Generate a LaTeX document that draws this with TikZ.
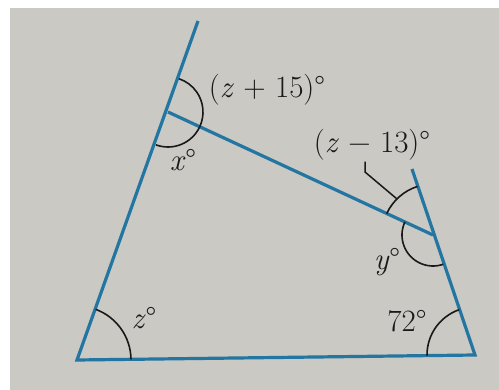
\documentclass[tikz,border=0pt]{standalone}
\usepackage{fontspec}
\usetikzlibrary{angles}
\definecolor{lineblue}{RGB}{36,118,162}
\definecolor{paper}{RGB}{202,201,196}
\def\side{\draw[lineblue,line width=3.2pt]}
\def\angmark{\pic[draw=black!90,line width=1.6pt]}

\begin{document}
\begin{tikzpicture}[x=1pt,y=-1pt,font=\fontsize{31}{33}\selectfont,
    lbl/.style={inner sep=1pt,text=black!90}]
    \useasboundingbox (0,0) rectangle (499,390);
    \fill[white] (0,0) rectangle (499,390);
    \fill[paper] (10,8) rectangle (499,390);
    % corners and ends
    \coordinate (A)  at (77,360);
    \coordinate (B)  at (475,355);
    \coordinate (C)  at (168,112);
    \coordinate (D)  at (433,235);
    \coordinate (Tl) at (198,21);
    \coordinate (Tr) at (412,169);
    % sides
    \side (Tl) -- (A) -- (B) -- (Tr);
    \side (C) -- (D);
    % angle arcs
    \angmark[angle radius=54pt] {angle=B--A--C};
    \angmark[angle radius=35pt] {angle=D--C--Tl};
    \angmark[angle radius=35pt] {angle=A--C--D};
    \angmark[angle radius=51pt] {angle=Tr--D--C};
    \angmark[angle radius=31pt] {angle=C--D--B};
    \angmark[angle radius=48pt] {angle=D--B--A};
    % labels
    \node[lbl] (l15) at (267,90)  {(\textit{z} + 15)°};
    \node[lbl] (l13) at (372,145) {(\textit{z} − 13)°};
    \node[lbl] (lx)  at (183,160) {\textit{x}°};
    \node[lbl] (ly)  at (387,262) {\textit{y}°};
    \node[lbl] (l72) at (407,321) {72°};
    \node[lbl] (lz)  at (144,318) {\textit{z}°};
    % leader for (z - 13)
    \coordinate (lt)   at ([shift={(135:51pt)}]D);
    \coordinate (bend) at (365,172);
    \draw[black!90,line width=1.5pt] (lt) -- (bend) -- (bend |- l13.south);
\end{tikzpicture}
\end{document}
